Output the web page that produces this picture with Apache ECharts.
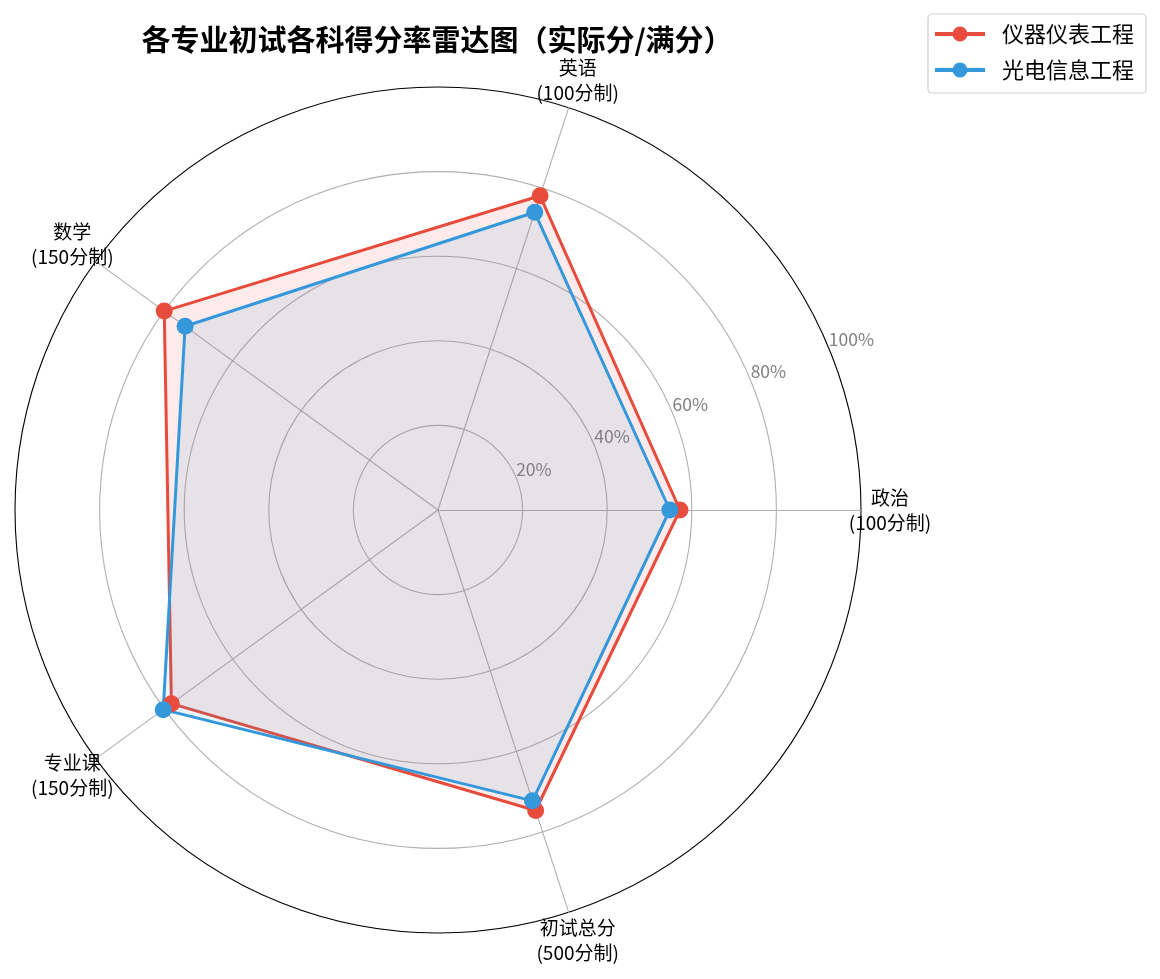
<html>
<head>
    <meta charset="utf-8">
    <script src="https://cdn.jsdelivr.net/npm/echarts@6/dist/echarts.min.js"></script>
</head>
<body>
    <style>
        html, body { width: 100%; height: 100%; margin: 0; background: #fff; }
    </style>
    <div id="main" style="width: 1160px;height:979px;"></div>
    <script>
        // subjects (axis names) and score rates (actual / full mark)
        var subjects = ['政治\n(100分制)', '英语\n(100分制)', '数学\n(150分制)', '专业课\n(150分制)', '初试总分\n(500分制)'];
        var instrumentRates = [0.572, 0.781, 0.800, 0.779, 0.747];
        var optoRates = [0.548, 0.740, 0.739, 0.803, 0.723];
        var majors = ['仪器仪表工程', '光电信息工程'];
        var colors = ['#e74c3c', '#3498db'];

        var FONT = '"Noto Sans CJK SC", "Microsoft YaHei", sans-serif';
        var CX = 438, CY = 510, R = 423;
        // line with a dot in the middle, same winding so the dot stays solid
        var legendIcon = 'path://M0,6L50,6L50,10L0,10Z M17.5,8A7.5,7.5,0,1,1,32.5,8A7.5,7.5,0,1,1,17.5,8Z';

        var chart = echarts.init(document.getElementById('main'));

        var option = {
            backgroundColor: '#fff',
            title: {
                text: '各专业初试各科得分率雷达图（实际分/满分）',
                left: 432,
                textAlign: 'center',
                top: 20,
                textStyle: { fontFamily: FONT, fontSize: 29, fontWeight: 'bold', color: '#000' }
            },
            legend: {
                data: majors.map(function (m) { return { name: m, icon: legendIcon }; }),
                orient: 'vertical',
                right: 14,
                top: 14,
                itemWidth: 50,
                itemHeight: 16,
                itemGap: 14,
                padding: [9, 12, 12, 7],
                borderColor: '#d0d0d0',
                borderWidth: 1.2,
                borderRadius: 4,
                textStyle: { fontFamily: FONT, fontSize: 22, color: '#000', padding: [0, 0, 0, 12] }
            },
            radar: {
                center: [CX, CY],
                radius: R,
                startAngle: 0,
                shape: 'circle',
                splitNumber: 5,
                nameGap: 29,
                indicator: subjects.map(function (s) { return { name: s, min: 0, max: 1 }; }),
                axisName: {
                    color: '#000',
                    fontFamily: FONT,
                    fontSize: 19,
                    lineHeight: 25,
                    align: 'center',
                    verticalAlign: 'middle'
                },
                splitLine: {
                    lineStyle: { color: ['#b0b0b0', '#b0b0b0', '#b0b0b0', '#b0b0b0', '#b0b0b0', '#000'], width: 1.1 }
                },
                splitArea: { show: false },
                axisLine: { lineStyle: { color: '#b0b0b0', width: 1.1 } },
                axisTick: { show: false },
                axisLabel: { show: false }
            },
            // second coordinate system only to place the radial percentage labels at 22.5°
            polar: {
                center: [CX, CY],
                radius: R
            },
            angleAxis: {
                type: 'value',
                min: 0,
                max: 360,
                startAngle: 22.5,
                show: false
            },
            radiusAxis: {
                type: 'value',
                min: 0,
                max: 1,
                interval: 0.2,
                axisLine: { show: false },
                axisTick: { show: false },
                splitLine: { show: false },
                axisLabel: {
                    showMinLabel: false,
                    margin: 0,
                    align: 'left',
                    verticalAlign: 'bottom',
                    color: '#808080',
                    fontFamily: FONT,
                    fontSize: 17.5,
                    formatter: function (v) { return Math.round(v * 100) + '%'; }
                },
                z: 10
            },
            series: [{
                type: 'radar',
                symbol: 'circle',
                symbolSize: 17,
                data: [
                    {
                        name: majors[0],
                        value: instrumentRates,
                        itemStyle: { color: colors[0] },
                        lineStyle: { color: colors[0], width: 3 },
                        areaStyle: { color: colors[0], opacity: 0.11 }
                    },
                    {
                        name: majors[1],
                        value: optoRates,
                        itemStyle: { color: colors[1] },
                        lineStyle: { color: colors[1], width: 3 },
                        areaStyle: { color: colors[1], opacity: 0.11 }
                    }
                ]
            }]
        };
        chart.setOption(option);
    </script>
</body>
</html>
